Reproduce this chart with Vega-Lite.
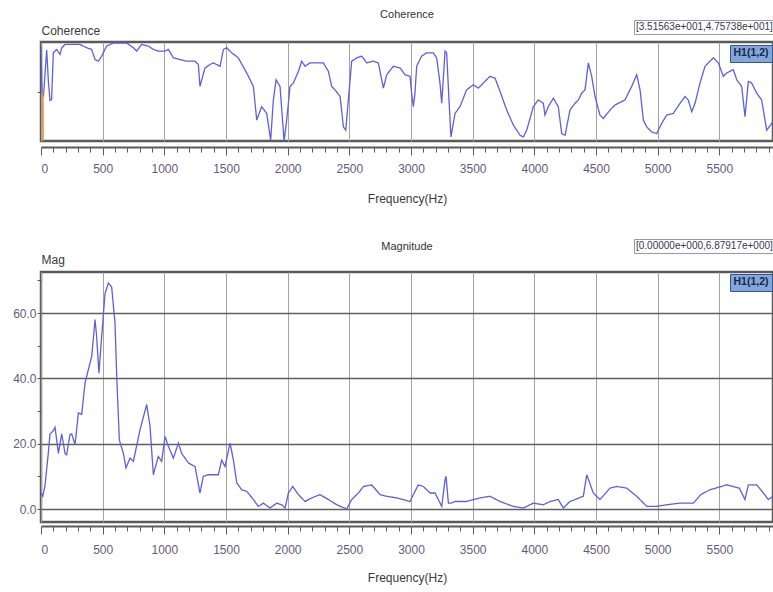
{
  "$schema": "https://vega.github.io/schema/vega-lite/v6.json",
  "autosize": {"type": "none"},
  "padding": {"left": 41, "top": 42, "right": 0, "bottom": 70},
  "params": [{"name": "height", "value": 480}],
  "bounds": "flush",
  "spacing": 131,
  "background": "white",
  "config": {
    "font": "Liberation Sans",
    "view": {"stroke": "#5a5a5a", "strokeWidth": 2.5},
    "axis": {"labelFontSize": 12, "labelColor": "#67597a", "titleFontSize": 12, "titleFontWeight": "normal", "titleColor": "#3a3a3a", "domainColor": "#5a5a5a", "tickColor": "#5a5a5a"},
    "title": {"fontSize": 11, "fontWeight": "normal", "color": "#333333"}
  },
  "datasets": {
    "coh": [
      {"f":0,"c":0.95},{"f":8,"c":0.5},{"f":20,"c":0.45},{"f":46,"c":0.92},{"f":60,"c":0.6},{"f":73,"c":0.41},{"f":86,"c":0.42},{"f":100,"c":0.89},{"f":127,"c":0.925},{"f":154,"c":0.874},{"f":168,"c":0.94},{"f":195,"c":0.976},{"f":235,"c":0.976},{"f":316,"c":0.976},{"f":370,"c":0.942},{"f":411,"c":0.925},{"f":438,"c":0.823},{"f":465,"c":0.806},{"f":492,"c":0.857},{"f":532,"c":0.959},{"f":587,"c":0.99},{"f":695,"c":0.99},{"f":749,"c":0.942},{"f":776,"c":0.908},{"f":816,"c":0.976},{"f":870,"c":0.959},{"f":911,"c":0.925},{"f":951,"c":0.908},{"f":1006,"c":0.908},{"f":1033,"c":0.925},{"f":1073,"c":0.84},{"f":1127,"c":0.823},{"f":1181,"c":0.806},{"f":1249,"c":0.806},{"f":1276,"c":0.772},{"f":1289,"c":0.551},{"f":1311,"c":0.653},{"f":1330,"c":0.738},{"f":1370,"c":0.772},{"f":1397,"c":0.789},{"f":1452,"c":0.755},{"f":1479,"c":0.925},{"f":1506,"c":0.942},{"f":1546,"c":0.891},{"f":1600,"c":0.84},{"f":1668,"c":0.687},{"f":1722,"c":0.551},{"f":1749,"c":0.211},{"f":1789,"c":0.347},{"f":1830,"c":0.279},{"f":1862,"c":0.007},{"f":1884,"c":0.415},{"f":1906,"c":0.619},{"f":1938,"c":0.551},{"f":1971,"c":0.0},{"f":1992,"c":0.211},{"f":2019,"c":0.551},{"f":2046,"c":0.585},{"f":2087,"c":0.704},{"f":2114,"c":0.806},{"f":2141,"c":0.755},{"f":2181,"c":0.789},{"f":2235,"c":0.789},{"f":2289,"c":0.789},{"f":2330,"c":0.704},{"f":2357,"c":0.551},{"f":2384,"c":0.517},{"f":2425,"c":0.449},{"f":2452,"c":0.143},{"f":2471,"c":0.109},{"f":2492,"c":0.415},{"f":2519,"c":0.806},{"f":2560,"c":0.84},{"f":2600,"c":0.857},{"f":2641,"c":0.789},{"f":2695,"c":0.806},{"f":2735,"c":0.789},{"f":2776,"c":0.534},{"f":2803,"c":0.67},{"f":2857,"c":0.755},{"f":2911,"c":0.738},{"f":2951,"c":0.67},{"f":2992,"c":0.653},{"f":3005,"c":0.483},{"f":3019,"c":0.347},{"f":3032,"c":0.483},{"f":3046,"c":0.755},{"f":3086,"c":0.857},{"f":3127,"c":0.891},{"f":3181,"c":0.891},{"f":3208,"c":0.84},{"f":3235,"c":0.585},{"f":3249,"c":0.381},{"f":3276,"c":0.908},{"f":3289,"c":0.891},{"f":3308,"c":0.415},{"f":3324,"c":0.041},{"f":3357,"c":0.279},{"f":3397,"c":0.347},{"f":3451,"c":0.517},{"f":3505,"c":0.568},{"f":3546,"c":0.534},{"f":3586,"c":0.585},{"f":3640,"c":0.653},{"f":3681,"c":0.636},{"f":3722,"c":0.5},{"f":3776,"c":0.313},{"f":3830,"c":0.16},{"f":3884,"c":0.058},{"f":3911,"c":0.041},{"f":3938,"c":0.109},{"f":3992,"c":0.347},{"f":4032,"c":0.415},{"f":4073,"c":0.381},{"f":4086,"c":0.262},{"f":4113,"c":0.347},{"f":4154,"c":0.432},{"f":4194,"c":0.347},{"f":4222,"c":0.075},{"f":4249,"c":0.058},{"f":4289,"c":0.313},{"f":4330,"c":0.381},{"f":4357,"c":0.415},{"f":4384,"c":0.483},{"f":4411,"c":0.517},{"f":4438,"c":0.789},{"f":4465,"c":0.653},{"f":4492,"c":0.449},{"f":4532,"c":0.262},{"f":4559,"c":0.228},{"f":4614,"c":0.313},{"f":4654,"c":0.364},{"f":4735,"c":0.415},{"f":4789,"c":0.551},{"f":4830,"c":0.67},{"f":4857,"c":0.517},{"f":4884,"c":0.211},{"f":4911,"c":0.143},{"f":4951,"c":0.092},{"f":4992,"c":0.075},{"f":5032,"c":0.177},{"f":5073,"c":0.262},{"f":5127,"c":0.279},{"f":5181,"c":0.381},{"f":5222,"c":0.449},{"f":5248,"c":0.415},{"f":5276,"c":0.296},{"f":5303,"c":0.381},{"f":5343,"c":0.585},{"f":5384,"c":0.755},{"f":5424,"c":0.806},{"f":5451,"c":0.84},{"f":5492,"c":0.789},{"f":5532,"c":0.653},{"f":5560,"c":0.687},{"f":5613,"c":0.721},{"f":5641,"c":0.619},{"f":5681,"c":0.551},{"f":5708,"c":0.245},{"f":5735,"c":0.602},{"f":5762,"c":0.585},{"f":5803,"c":0.483},{"f":5843,"c":0.415},{"f":5884,"c":0.109},{"f":5924,"c":0.177},{"f":5935,"c":0.194}
    ],
    "mag": [
      {"f":0,"m":4.9},{"f":14,"m":3.9},{"f":32,"m":7},{"f":59,"m":17},{"f":73,"m":23},{"f":100,"m":24},{"f":114,"m":25},{"f":141,"m":17},{"f":154,"m":20},{"f":168,"m":23},{"f":195,"m":17},{"f":208,"m":16.6},{"f":235,"m":22.8},{"f":249,"m":23},{"f":276,"m":19.7},{"f":303,"m":29.4},{"f":330,"m":29},{"f":357,"m":38.6},{"f":384,"m":42.7},{"f":411,"m":46.7},{"f":438,"m":58},{"f":451,"m":52.9},{"f":470,"m":41.6},{"f":492,"m":52.9},{"f":519,"m":66},{"f":546,"m":69.2},{"f":573,"m":68},{"f":600,"m":57},{"f":614,"m":40.6},{"f":635,"m":21.2},{"f":668,"m":17},{"f":689,"m":12.6},{"f":722,"m":15.6},{"f":749,"m":14.6},{"f":803,"m":24.3},{"f":857,"m":32},{"f":884,"m":25.3},{"f":911,"m":10.5},{"f":951,"m":16.1},{"f":978,"m":14.6},{"f":1006,"m":22.2},{"f":1033,"m":19.2},{"f":1073,"m":15.6},{"f":1114,"m":20.2},{"f":1141,"m":17},{"f":1195,"m":14.1},{"f":1249,"m":13},{"f":1289,"m":4.9},{"f":1316,"m":10},{"f":1357,"m":10.5},{"f":1438,"m":10.5},{"f":1465,"m":15},{"f":1492,"m":13},{"f":1533,"m":20.2},{"f":1560,"m":15},{"f":1587,"m":8},{"f":1627,"m":5.9},{"f":1668,"m":5.4},{"f":1722,"m":2.9},{"f":1762,"m":0.8},{"f":1803,"m":1.8},{"f":1857,"m":0.3},{"f":1911,"m":1.8},{"f":1952,"m":1.3},{"f":1979,"m":0.3},{"f":2006,"m":4.9},{"f":2041,"m":6.9},{"f":2087,"m":4.4},{"f":2141,"m":2.3},{"f":2195,"m":3.4},{"f":2262,"m":4.4},{"f":2330,"m":2.9},{"f":2398,"m":1.3},{"f":2479,"m":0},{"f":2519,"m":2.9},{"f":2573,"m":4.9},{"f":2614,"m":6.9},{"f":2681,"m":7.4},{"f":2749,"m":4.4},{"f":2803,"m":3.9},{"f":2884,"m":3.4},{"f":2992,"m":2.3},{"f":3019,"m":4.4},{"f":3059,"m":7.4},{"f":3100,"m":6.9},{"f":3154,"m":4.9},{"f":3195,"m":4.9},{"f":3249,"m":0.8},{"f":3276,"m":9},{"f":3284,"m":10},{"f":3303,"m":1.8},{"f":3324,"m":1.8},{"f":3357,"m":2.3},{"f":3451,"m":2.3},{"f":3559,"m":3.4},{"f":3640,"m":3.9},{"f":3722,"m":2.3},{"f":3830,"m":0.8},{"f":3911,"m":0.3},{"f":3992,"m":1.8},{"f":4073,"m":1.3},{"f":4127,"m":2.3},{"f":4194,"m":2.9},{"f":4235,"m":0.3},{"f":4289,"m":2.3},{"f":4397,"m":3.9},{"f":4425,"m":10.5},{"f":4478,"m":4.9},{"f":4532,"m":2.9},{"f":4614,"m":6.4},{"f":4668,"m":6.9},{"f":4749,"m":6.4},{"f":4830,"m":3.9},{"f":4911,"m":0.8},{"f":4992,"m":0.8},{"f":5073,"m":1.3},{"f":5181,"m":1.8},{"f":5289,"m":1.8},{"f":5349,"m":4.4},{"f":5424,"m":5.9},{"f":5470,"m":6.4},{"f":5560,"m":7.4},{"f":5613,"m":6.9},{"f":5662,"m":6.4},{"f":5708,"m":2.9},{"f":5735,"m":7.4},{"f":5803,"m":7.4},{"f":5857,"m":4.9},{"f":5897,"m":2.9},{"f":5935,"m":3.9}
    ]
  },
  "resolve": {"scale": {"color": "independent", "strokeDash": "independent"}, "legend": {"color": "independent", "strokeDash": "independent"}},
  "vconcat": [
    {
      "width": 732,
      "height": 99,
      "title": {"text": "Coherence", "anchor": "middle", "frame": "group", "offset": 0},
      "encoding": {
        "x": {"field": "f", "type": "quantitative", "scale": {"domain": [0, 5935], "nice": false, "zero": false},
          "axis": {"values": [0,100,200,300,400,500,600,700,800,900,1000,1100,1200,1300,1400,1500,1600,1700,1800,1900,2000,2100,2200,2300,2400,2500,2600,2700,2800,2900,3000,3100,3200,3300,3400,3500,3600,3700,3800,3900,4000,4100,4200,4300,4400,4500,4600,4700,4800,4900,5000,5100,5200,5300,5400,5500,5600,5700,5800,5900],
            "format": "d", "labelExpr": "datum.value % 500 === 0 ? datum.label : ''", "labelOverlap": false,
            "tickSize": {"condition": {"test": "datum.value % 500 === 0", "value": 8}, "value": 5},
            "grid": true, "gridColor": "#a3a3a3", "gridOpacity": {"condition": {"test": "datum.value % 500 === 0", "value": 1}, "value": 0},
            "offset": 6, "domainWidth": 2, "labelPadding": 8, "title": "Frequency(Hz)", "titlePadding": 19}},
        "y": {"field": "c", "type": "quantitative", "scale": {"domain": [0, 1], "nice": false},
          "axis": {"values": [0.5], "labels": false, "tickSize": 4, "grid": false, "domain": false, "title": "Coherence", "titleAngle": 0, "titleAlign": "left", "titleBaseline": "alphabetic", "titleX": 0, "titleY": -8}}
      },
      "layer": [
        {
          "data": {"name": "coh"},
          "mark": {"type": "line", "strokeWidth": 1.3, "clip": true},
          "encoding": {
            "color": {"datum": "H1(1,2)", "scale": {"range": ["#5f5fdb"]},
              "legend": {"orient": "none", "legendX": 689, "legendY": 3, "title": null, "fillColor": "#84a7d9", "strokeColor": "#34558f", "padding": 3, "symbolType": "stroke", "symbolSize": 1, "symbolOpacity": 0, "symbolStrokeWidth": 0, "labelOffset": -10, "labelFontSize": 10.5, "labelFontWeight": "bold", "labelColor": "#172650"}},
            "strokeDash": {"datum": "[3.51563e+001,4.75738e+001]", "scale": {"range": [[1, 0]]},
              "legend": {"orient": "none", "legendX": 593, "legendY": -22, "title": null, "fillColor": "white", "strokeColor": "#9a9a9a", "padding": 2, "symbolType": "stroke", "symbolSize": 1, "symbolOpacity": 0, "symbolStrokeWidth": 0, "labelOffset": -10, "labelFontSize": 10, "labelColor": "#3b3550", "labelLimit": 300}}
          }
        },
        {
          "data": {"values": [{"f": 15, "c": 0.5}, {"f": 17, "c": 0.0}]},
          "mark": {"type": "line", "color": "#f08a24", "strokeWidth": 1.5}
        }
      ]
    },
    {
      "width": 732,
      "height": 250,
      "title": {"text": "Magnitude", "anchor": "middle", "frame": "group", "offset": -13},
      "encoding": {
        "x": {"field": "f", "type": "quantitative", "scale": {"domain": [0, 5935], "nice": false, "zero": false},
          "axis": {"values": [0,100,200,300,400,500,600,700,800,900,1000,1100,1200,1300,1400,1500,1600,1700,1800,1900,2000,2100,2200,2300,2400,2500,2600,2700,2800,2900,3000,3100,3200,3300,3400,3500,3600,3700,3800,3900,4000,4100,4200,4300,4400,4500,4600,4700,4800,4900,5000,5100,5200,5300,5400,5500,5600,5700,5800,5900],
            "format": "d", "labelExpr": "datum.value % 500 === 0 ? datum.label : ''", "labelOverlap": false,
            "tickSize": {"condition": {"test": "datum.value % 500 === 0", "value": 8}, "value": 5},
            "grid": true, "gridColor": "#a3a3a3", "gridOpacity": {"condition": {"test": "datum.value % 500 === 0", "value": 1}, "value": 0},
            "offset": 4, "domainWidth": 2, "labelPadding": 10, "title": "Frequency(Hz)", "titlePadding": 17}},
        "y": {"field": "m", "type": "quantitative", "scale": {"domain": [-3.98, 72.6], "nice": false, "zero": false},
          "axis": {"values": [0,10,20,30,40,50,60,70], "labelExpr": "datum.value % 20 === 0 ? format(datum.value, '.1f') : ''", "labelOverlap": false,
            "tickSize": 4, "labelPadding": 1, "domain": false,
            "grid": true, "gridColor": "#5f5f5f", "gridWidth": 1.6, "gridOpacity": {"condition": {"test": "datum.value % 20 === 0", "value": 1}, "value": 0},
            "title": "Mag", "titleAngle": 0, "titleAlign": "left", "titleBaseline": "alphabetic", "titleX": 0, "titleY": -9}}
      },
      "layer": [
        {
          "data": {"name": "mag"},
          "mark": {"type": "line", "strokeWidth": 1.3, "clip": true},
          "encoding": {
            "color": {"datum": "H1(1,2)", "scale": {"range": ["#5f5fdb"]},
              "legend": {"orient": "none", "legendX": 689, "legendY": 2, "title": null, "fillColor": "#84a7d9", "strokeColor": "#34558f", "padding": 3, "symbolType": "stroke", "symbolSize": 1, "symbolOpacity": 0, "symbolStrokeWidth": 0, "labelOffset": -10, "labelFontSize": 10.5, "labelFontWeight": "bold", "labelColor": "#172650"}},
            "strokeDash": {"datum": "[0.00000e+000,6.87917e+000]", "scale": {"range": [[1, 0]]},
              "legend": {"orient": "none", "legendX": 593, "legendY": -33, "title": null, "fillColor": "white", "strokeColor": "#9a9a9a", "padding": 2, "symbolType": "stroke", "symbolSize": 1, "symbolOpacity": 0, "symbolStrokeWidth": 0, "labelOffset": -10, "labelFontSize": 10, "labelColor": "#3b3550", "labelLimit": 300}}
          }
        }
      ]
    }
  ]
}
